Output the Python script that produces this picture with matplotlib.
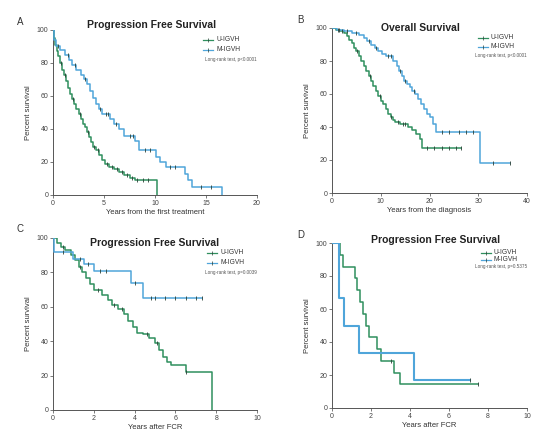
import numpy as np
import matplotlib
matplotlib.use('Agg')
import matplotlib.pyplot as plt

plt.rcParams['font.family'] = ['Liberation Sans', 'DejaVu Sans']

GREEN = '#2f8f5e'   # U-IGVH
BLUE = '#4fa5da'    # M-IGVH

# ---------------- Panel A: PFS from first treatment ----------------
a_m_t = [0, 0.1, 0.3, 0.7, 1.2, 1.6, 1.9, 2.3, 2.7, 3.0, 3.3, 3.6, 3.9, 4.2, 4.5, 4.8,
         5.6, 6.0, 6.5, 7.0, 8.0, 8.4, 10.1, 10.5, 11.1, 12.9, 13.2, 13.6, 16.6]
a_m_s = [100, 94, 90, 88, 85, 82, 79, 76, 73, 70, 67, 63, 59, 55, 52, 49,
         46, 43, 40, 36, 33, 27, 23, 20, 17, 13, 9, 5, 0]
a_m_cens = [0.5, 1.5, 2.2, 3.1, 4.6, 5.2, 5.4, 6.2, 7.5, 7.8, 9.0, 9.5, 11.5, 12.0, 14.5, 15.5]
a_u_t = [0, 0.1, 0.2, 0.35, 0.5, 0.7, 0.9, 1.1, 1.3, 1.5, 1.7, 1.9, 2.1, 2.3, 2.5, 2.7,
         2.9, 3.1, 3.3, 3.5, 3.7, 3.9, 4.2, 4.5, 4.8, 5.1, 5.5, 6.0, 6.5, 7.0, 7.5, 8.0, 10.2]
a_u_s = [100, 95, 91, 87, 84, 80, 76, 73, 69, 65, 61, 58, 55, 52, 49, 46,
         43, 41, 38, 35, 32, 29, 27, 24, 21, 19, 17, 16, 14, 12, 10.5, 9, 0]
a_u_cens = [0.8, 1.2, 2.0, 2.6, 3.4, 4.0, 4.4, 5.3, 5.8, 6.3, 6.8, 7.3, 7.7, 8.2, 8.8, 9.3]

# ---------------- Panel B: OS from diagnosis ----------------
b_m_t = [0, 1.0, 2.5, 4.0, 5.5, 6.5, 7.2, 8.0, 8.8, 9.5, 10.3, 11.0, 12.6, 13.3, 13.8, 14.3,
         14.8, 15.3, 15.9, 16.5, 17.0, 17.6, 18.2, 18.8, 19.5, 20.2, 20.8, 21.4, 30.3, 36.5]
b_m_s = [100, 99, 98, 97, 96, 94, 92, 90, 88, 86, 84, 83, 80, 77, 74, 71,
         68, 66, 64, 62, 60, 57, 54, 51, 48, 46, 42, 37, 18, 18]
b_m_cens = [1.5, 3.0, 5.0, 7.5, 9.0, 11.5, 12.0, 14.0, 15.0, 16.8, 22.5, 24, 26, 27.5, 29, 33, 36.5]
b_u_t = [0, 0.8, 1.6, 2.4, 3.0, 3.5, 4.0, 4.5, 5.0, 5.5, 6.0, 6.5, 7.0, 7.5, 8.0, 8.5, 9.0,
         9.5, 10.0, 10.5, 11.0, 11.5, 12.0, 12.5, 13.0, 14.0, 15.5, 16.5, 17.2, 18.0, 18.5, 26.5]
b_u_s = [100, 99, 98, 97, 95, 93, 91, 88, 86, 83, 80, 77, 74, 71, 68, 65, 62,
         59, 56, 54, 51, 48, 46, 44, 43, 42, 40, 38, 36, 33, 27, 27]
b_u_cens = [1.2, 2.0, 5.2, 7.8, 9.8, 12.2, 13.5, 14.5, 15.0, 19.5, 21, 22.5, 24, 25.5, 26.5]

# ---------------- Panel C: PFS after FCR ----------------
c_m_t = [0, 0.05, 1.0, 1.5, 2.0, 3.8, 4.4, 7.3]
c_m_s = [100, 92, 88, 85, 81, 74, 65, 65]
c_m_cens = [0.5, 1.3, 1.7, 2.3, 2.6, 4.0, 4.8, 5.0, 5.5, 6.0, 6.5, 7.0, 7.3]
c_u_t = [0, 0.2, 0.4, 0.6, 0.9, 1.1, 1.25, 1.4, 1.6, 1.8, 2.0, 2.4, 2.7, 2.9, 3.2, 3.5,
         3.7, 3.9, 4.1, 4.4, 4.7, 5.0, 5.2, 5.4, 5.6, 5.8, 6.5, 7.8]
c_u_s = [100, 97, 95, 93, 90, 87, 83, 80, 77, 73, 70, 67, 64, 61, 59, 56,
         52, 48, 45, 44, 42, 39, 35, 31, 28, 26, 22, 0]
c_u_cens = [0.5, 1.3, 2.2, 3.0, 3.4, 4.6, 5.1, 6.5]

# ---------------- Panel D: PFS after FCR ----------------
d_m_t = [0, 0.35, 0.6, 1.4, 4.2, 7.1]
d_m_s = [100, 66.7, 50, 33.3, 16.7, 16.7]
d_m_cens = [7.1]
d_u_t = [0, 0.42, 0.55, 1.2, 1.3, 1.45, 1.6, 1.75, 1.9, 2.3, 2.5, 3.2, 3.5, 7.5]
d_u_s = [100, 92.9, 85.7, 78.6, 71.4, 64.3, 57.1, 50, 42.9, 35.7, 28.6, 21.4, 14.3, 14.3]
d_u_cens = [3.0, 7.5]

panels = [
    dict(letter='A', title='Progression Free Survival', xlabel='Years from the first treatment',
         xmax=20, xticks=[0, 5, 10, 15, 20], p='Long-rank test, p<0.0001',
         m=(a_m_t, a_m_s, a_m_cens), u=(a_u_t, a_u_s, a_u_cens),
         rect=[53, 30, 204, 165], title_xy=(0.485, 1.03), key_x=0.735, key_y=[0.94, 0.88, 0.82]),
    dict(letter='B', title='Overall Survival', xlabel='Years from the diagnosis',
         xmax=40, xticks=[0, 10, 20, 30, 40], p='Long-rank test, p<0.0001',
         m=(b_m_t, b_m_s, b_m_cens), u=(b_u_t, b_u_s, b_u_cens),
         rect=[332, 28, 195, 165], title_xy=(0.455, 1.0), key_x=0.75, key_y=[0.94, 0.885, 0.835]),
    dict(letter='C', title='Progression Free Survival', xlabel='Years after FCR',
         xmax=10, xticks=[0, 2, 4, 6, 8, 10], p='Long-rank test, p=0.0039',
         m=(c_m_t, c_m_s, c_m_cens), u=(c_u_t, c_u_s, c_u_cens),
         rect=[53, 238, 204, 172], title_xy=(0.496, 0.97), key_x=0.755, key_y=[0.913, 0.855, 0.797]),
    dict(letter='D', title='Progression Free Survival', xlabel='Years after FCR',
         xmax=10, xticks=[0, 2, 4, 6, 8, 10], p='Long-rank test, p=0.5375',
         m=(d_m_t, d_m_s, d_m_cens), u=(d_u_t, d_u_s, d_u_cens),
         rect=[332, 243, 195, 165], title_xy=(0.53, 1.02), key_x=0.765, key_y=[0.94, 0.897, 0.855]),
]

W, H = 533, 430
fig = plt.figure(figsize=(W / 100, H / 100), dpi=100)


def km_value(t, s, x):
    idx = np.searchsorted(t, x, side='right') - 1
    return np.asarray(s)[idx]


def draw_curve(ax, t, s, cens, color, lw):
    ax.step(t, s, where='post', color=color, lw=lw, zorder=3)
    cy = [km_value(t, s, c) for c in cens]
    ax.plot(cens, cy, ls='none', marker='|', ms=2.8, mew=0.6, color='#2a3f35', zorder=4)


for p in panels:
    x0, y0, w, h = p['rect']
    ax = fig.add_axes([x0 / W, 1 - (y0 + h) / H, w / W, h / H])
    draw_curve(ax, *p['u'], GREEN, 1.1)
    draw_curve(ax, *p['m'], BLUE, 1.5 if p['letter'] == 'D' else 1.1)

    ax.set_xlim(0, p['xmax'])
    ax.set_ylim(0, 100)
    ax.set_xticks(p['xticks'])
    ax.set_yticks([0, 20, 40, 60, 80, 100])
    ax.tick_params(labelsize=5, length=2, width=0.5, pad=1.5, colors='#444444')
    for side in ['top', 'right']:
        ax.spines[side].set_visible(False)
    for side in ['left', 'bottom']:
        ax.spines[side].set_linewidth(0.7)
        ax.spines[side].set_color('#555555')
    ax.set_ylabel('Percent survival', fontsize=5.5, color='#333333', labelpad=3)
    ax.set_xlabel(p['xlabel'], fontsize=5.5, color='#333333', labelpad=1.5)

    ax.text(*p['title_xy'], p['title'], transform=ax.transAxes, ha='center', va='center',
            fontsize=7.5, fontweight='bold', color='#222222')
    ax.text(-0.16, 1.05, p['letter'], transform=ax.transAxes, ha='center', va='center',
            fontsize=7, color='#333333')

    # key
    kx = p['key_x']
    for yy, col, lab in zip(p['key_y'][:2], [GREEN, BLUE], ['U-IGVH', 'M-IGVH']):
        ax.plot([kx, kx + 0.05], [yy, yy], transform=ax.transAxes, color=col, lw=0.9,
                clip_on=False)
        ax.plot([kx + 0.025], [yy], transform=ax.transAxes, marker='|', ms=2.5, mew=0.5,
                color='#2a3f35', clip_on=False)
        ax.text(kx + 0.065, yy, lab, transform=ax.transAxes, ha='left', va='center',
                fontsize=4.8, color='#333333')
    ax.text(1.0, p['key_y'][2], p['p'], transform=ax.transAxes, ha='right', va='center',
            fontsize=3.3, color='#555555')

fig.savefig('out.png', dpi=100, facecolor='white')
